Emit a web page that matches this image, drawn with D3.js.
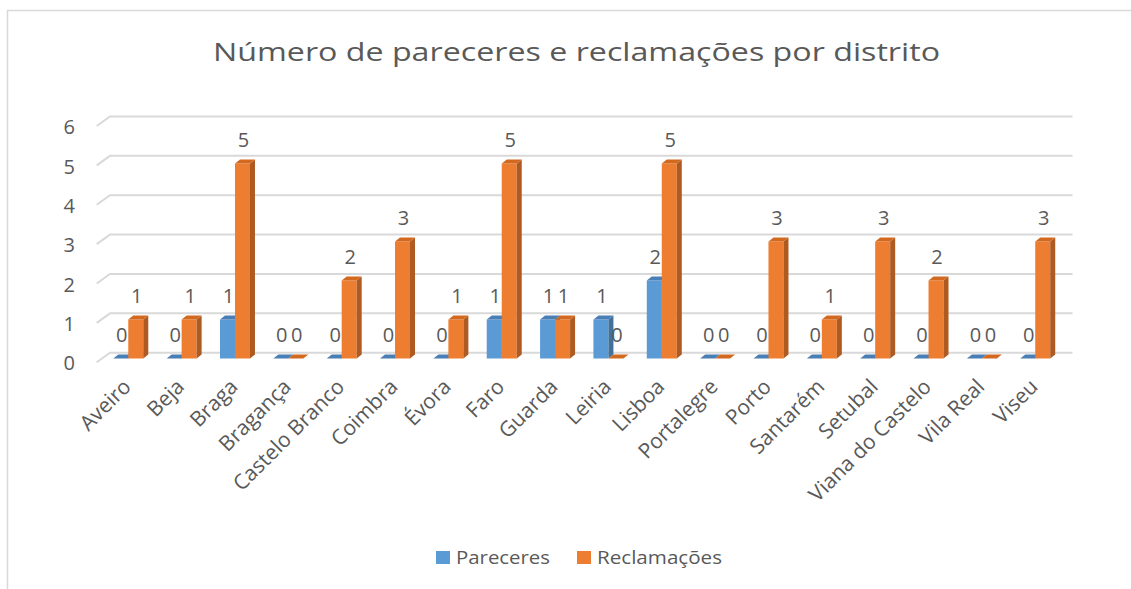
<!DOCTYPE html>
<html>
<head>
<meta charset="utf-8">
<script src="https://cdn.jsdelivr.net/npm/d3@7"></script>
<style>
  html, body { margin: 0; padding: 0; background: #fff; }
  svg { display: block; font-family: "Open Sans", "DejaVu Sans", sans-serif; }
</style>
</head>
<body>
<div id="chart"></div>
<script>
// data
const categories = ["Aveiro", "Beja", "Braga", "Bragança", "Castelo Branco", "Coimbra", "Évora", "Faro",
    "Guarda", "Leiria", "Lisboa", "Portalegre", "Porto", "Santarém", "Setubal", "Viana do Castelo",
    "Vila Real", "Viseu"];
const pareceres = [0, 0, 1, 0, 0, 0, 0, 1, 1, 1, 2, 0, 0, 0, 0, 0, 0, 0];
const reclamacoes = [1, 1, 5, 0, 2, 3, 1, 5, 1, 0, 5, 0, 3, 1, 3, 2, 0, 3];
const seriesNames = ["Pareceres", "Reclamações"];
const yTicks = [0, 1, 2, 3, 4, 5, 6];
const title = "Número de pareceres e reclamações por distrito";

const width = 1131, height = 589;
const textColor = "#595959";
const gridColor = "#d9d9d9";
const colors = {
    "Pareceres": { front: "#5b9bd5", top: "#4a7fb5", side: "#41719c" },
    "Reclamações": { front: "#ed7d31", top: "#d2691f", side: "#ae5a21" }
};

const svg = d3.select("#chart").append("svg")
    .attr("width", width)
    .attr("height", height);

// chart frame (only top and left edges visible in the crop)
svg.append("path")
    .attr("d", `M7.5,${height} L7.5,10.5 L${width},10.5`)
    .attr("fill", "none")
    .attr("stroke", gridColor)
    .attr("stroke-width", 1.5);

// title
svg.append("text")
    .attr("x", 213)
    .attr("y", 61)
    .attr("textLength", 727)
    .attr("lengthAdjust", "spacingAndGlyphs")
    .attr("font-size", "26px")
    .attr("fill", textColor)
    .text(title);

// scales
const x = d3.scaleBand()
    .domain(categories)
    .range([101.6, 101.6 + 53.35 * categories.length])
    .padding(0);

const xs = d3.scaleBand()
    .domain(seriesNames)
    .range([-15, 15]);

// bars (front plane) and back wall have slightly different vertical scales
const y = d3.scaleLinear().domain([0, 6]).range([358.5, 124.5]);
const yWall = d3.scaleLinear().domain([0, 6]).range([352.7, 116.5]);

const depth = { dx: 5, dy: -4 };
const wallLeft = 110, wallRight = 1072.5;
const floorDx = 13.3, floorDy = 9.5;

// gridlines on the back wall, with the diagonal side edge
const grid = svg.append("g");
yTicks.forEach(v => {
    const yy = yWall(v);
    grid.append("path")
        .attr("d", `M${wallLeft - floorDx},${yy + floorDy} L${wallLeft},${yy} L${wallRight},${yy}`)
        .attr("fill", "none")
        .attr("stroke", gridColor)
        .attr("stroke-width", 2);
});

// y axis labels
svg.append("g")
    .selectAll("text")
    .data(yTicks)
    .join("text")
    .attr("x", 75)
    .attr("y", d => yWall(d) + 10.5)
    .attr("dy", "0.36em")
    .attr("text-anchor", "end")
    .attr("font-size", "20px")
    .attr("fill", textColor)
    .text(d => d);

// build bar records
const rows = categories.map((c, i) => ({
    cat: c,
    values: [
        { key: "Pareceres", value: pareceres[i] },
        { key: "Reclamações", value: reclamacoes[i] }
    ]
}));

const barsG = svg.append("g");
const base = y(0);

rows.forEach(row => {
    const cx = x(row.cat) + x.bandwidth() / 2;
    row.values.forEach(d => {
        const x0 = cx + xs(d.key);
        const w = xs.bandwidth();
        const yt = y(d.value);
        const col = colors[d.key];
        const g = barsG.append("g");

        if (d.value > 0) {
            g.append("rect")
                .attr("x", x0)
                .attr("y", yt)
                .attr("width", w)
                .attr("height", base - yt)
                .attr("fill", col.front);
            g.append("polygon")
                .attr("points", [
                    [x0 + w, yt], [x0 + w + depth.dx, yt + depth.dy],
                    [x0 + w + depth.dx, base + depth.dy], [x0 + w, base]
                ].join(" "))
                .attr("fill", col.side);
        }
        g.append("polygon")
            .attr("points", [
                [x0, yt], [x0 + w, yt], [x0 + w + depth.dx, yt + depth.dy], [x0 + depth.dx, yt + depth.dy]
            ].join(" "))
            .attr("fill", col.top);
    });
});

// data labels
const labelsG = svg.append("g");
rows.forEach(row => {
    const cx = x(row.cat) + x.bandwidth() / 2;
    row.values.forEach(d => {
        const bx = cx + xs(d.key) + xs.bandwidth() / 2 + 1;
        labelsG.append("text")
            .attr("x", bx)
            .attr("y", y(d.value) - 23.5)
            .attr("dy", "0.36em")
            .attr("text-anchor", "middle")
            .attr("font-size", "20px")
            .attr("fill", textColor)
            .text(d.value);
    });
});

// category labels, rotated
svg.append("g")
    .selectAll("text")
    .data(categories)
    .join("text")
    .attr("transform", d => `translate(${x(d) + x.bandwidth() / 2 + 4},388) rotate(-45)`)
    .attr("text-anchor", "end")
    .attr("font-size", "21px")
    .attr("fill", textColor)
    .text(d => d);

// legend
const legend = svg.append("g");
const legendItems = [
    { key: "Pareceres", sx: 436, tx: 456, tw: 94 },
    { key: "Reclamações", sx: 577, tx: 597, tw: 125 }
];
legendItems.forEach(item => {
    legend.append("rect")
        .attr("x", item.sx)
        .attr("y", 551)
        .attr("width", 14)
        .attr("height", 13)
        .attr("fill", colors[item.key].front);
    legend.append("text")
        .attr("x", item.tx)
        .attr("y", 564)
        .attr("textLength", item.tw)
        .attr("lengthAdjust", "spacingAndGlyphs")
        .attr("font-size", "19px")
        .attr("fill", textColor)
        .text(item.key);
});
</script>
</body>
</html>
